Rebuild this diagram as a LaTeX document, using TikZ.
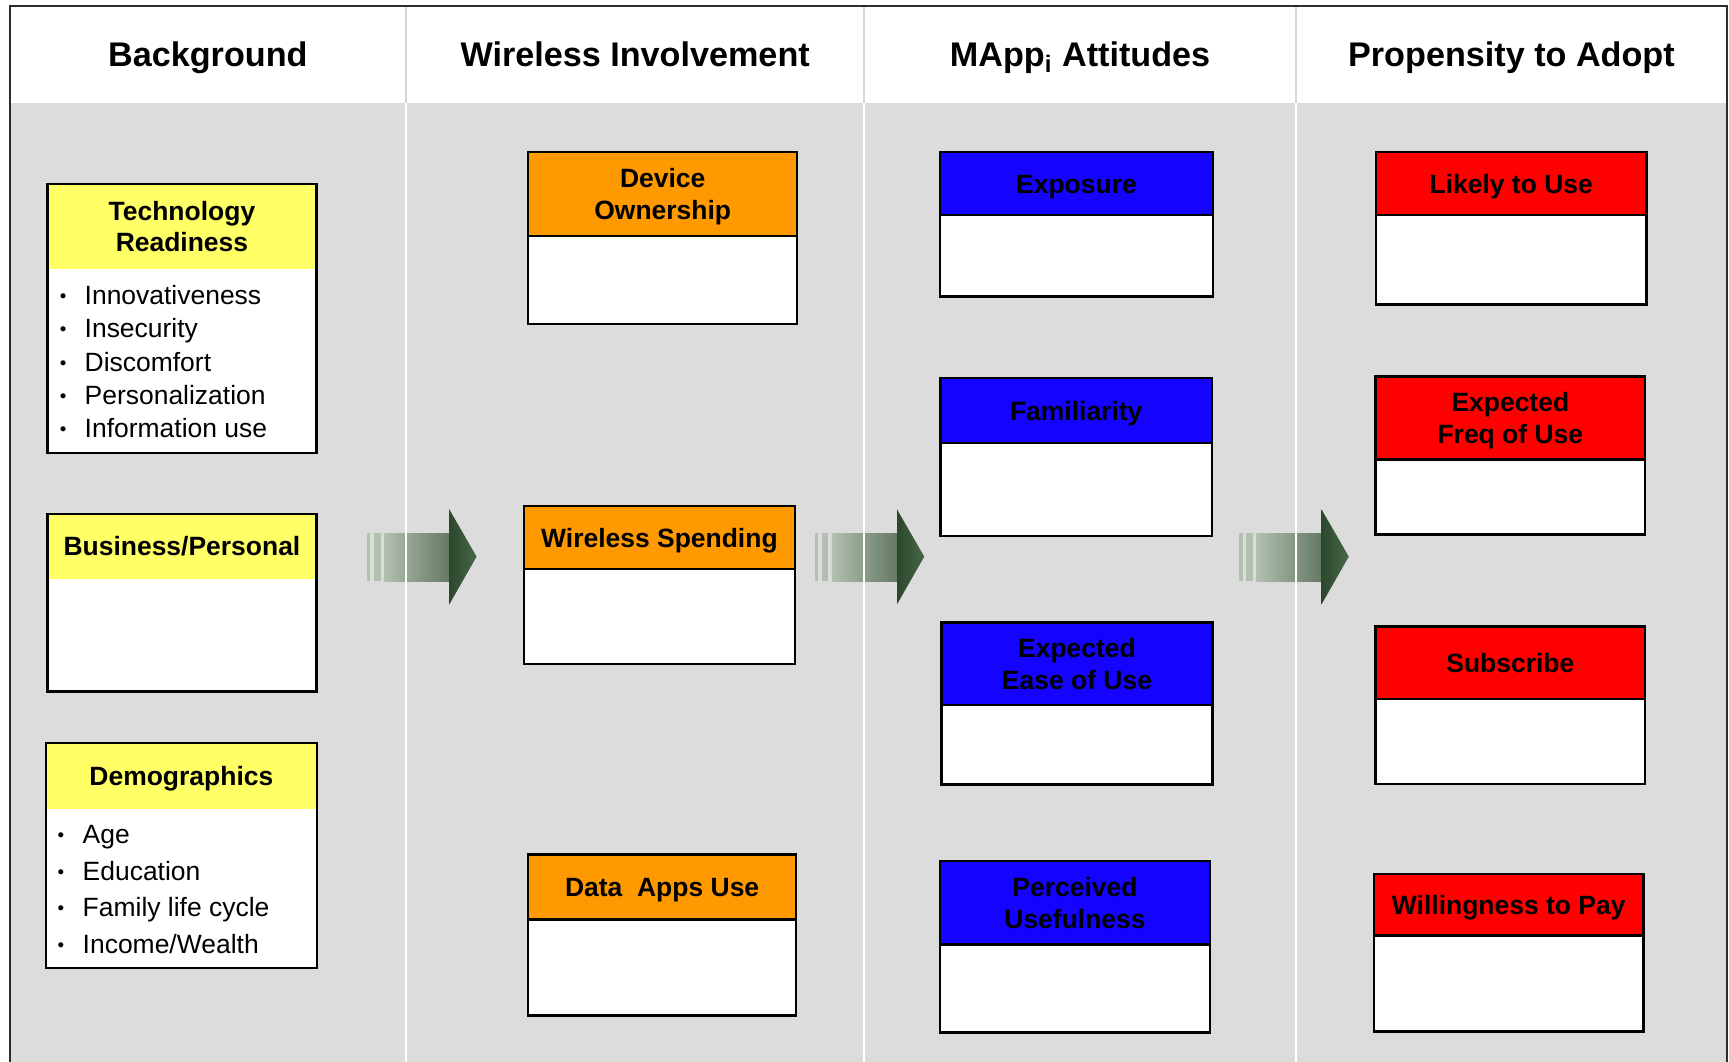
\documentclass[tikz,border=0pt]{standalone}
\usepackage{fontspec}
\setmainfont{Liberation Sans}

\definecolor{panelgray}{RGB}{220,220,220}
\definecolor{rulegray}{RGB}{214,214,214}
\definecolor{framegray}{RGB}{45,45,45}
\definecolor{bgyellow}{RGB}{255,255,102}
\definecolor{bgorange}{RGB}{255,153,0}
\definecolor{bgblue}{RGB}{20,4,255}
\definecolor{bgred}{RGB}{255,0,0}
\definecolor{arrowpale}{RGB}{178,192,176}
\definecolor{arrowmid}{RGB}{100,120,98}
\definecolor{arrowdark}{RGB}{44,72,44}
\definecolor{arrowtip}{RGB}{72,102,72}

% one line of text whose box runs from cap height down to the baseline
\newcommand\capline[1]{\rule{0pt}{0.716em}\smash{#1}}
% small bullet mark
\newcommand\smallbullet{\raisebox{1pt}{\fontsize{8.5}{10}\selectfont\textbullet}}
% bulleted list entry
\newcommand\bitem[2][11.2pt]{\makebox[#1][l]{\smallbullet}#2}

% category box: name, x1, y1, x2, y2, separator y, band colour, title, separator style
\newcommand\catbox[9]{%
  \fill[white] (#2,#3) rectangle (#4,#5);
  \fill[#7] (#2,#3) rectangle (#4,#6);
  \draw[#9] (#2,#6) -- (#4,#6);
  \draw[boxline] (#2,#3) rectangle (#4,#5);
  \node[boxtitle] (#1) at ({(#2+#4)/2},{(#3+#6)/2}) {#8};
}

% striped block arrow, shifted horizontally by #1
\newcommand\flowarrow[1]{%
  \begin{scope}[shift={(#1,0)}]
    \fill[arrowpale] (332.8,483.6) rectangle (335.8,527);
    \fill[arrowpale] (339.2,483.6) rectangle (345.3,527);
    \shade[left color=arrowpale, right color=arrowmid] (348.5,483.6) rectangle (407.8,527);
    \shade[left color=arrowdark, right color=arrowtip]
      (407.5,462) -- (432.2,504.8) -- (407.5,548) -- cycle;
  \end{scope}}

\tikzset{
  boxline/.style={draw=black, line width=1.1pt},
  sepline/.style={draw=black, line width=1.1pt},
  nosep/.style={draw=none},
  boxtitle/.style={font=\bfseries\fontsize{12}{14.4}\selectfont, align=center, inner sep=0pt},
  colhead/.style={font=\bfseries\fontsize{15.5}{18}\selectfont, inner sep=0pt},
  itemlist/.style={align=left, inner sep=0pt, anchor=north west, font=\fontsize{12}{15.1}\selectfont},
  frame/.style={draw=framegray, line width=0.9pt},
}

\begin{document}
\begin{tikzpicture}[x=0.5pt, y=-0.5pt]
  \useasboundingbox (0,0) rectangle (1568,963);
  \fill[white] (0,0) rectangle (1568,963);

  % header row and body
  \fill[panelgray] (9,93) rectangle (1566,963);

  % transition arrows between the columns
  \flowarrow{0}
  \flowarrow{406}
  \flowarrow{791}

  % column dividers
  \foreach \cx in {368,783.6,1175.4} {
    \draw[rulegray, line width=1pt] (\cx,5) -- (\cx,93);
    \draw[white, line width=1pt] (\cx,93) -- (\cx,963);
  }

  % outer frame
  \draw[frame] (9,963) -- (9,5) -- (1566,5) -- (1566,963);

  % column headings
  \node[colhead] (hbg) at (188.5,49) {\capline{Background}};
  \node[colhead] (hwi) at (576,49) {\capline{Wireless Involvement}};
  \node[colhead] (hma) at (979.5,49) {\capline{MApp\textsubscript{i} Attitudes}};
  \node[colhead] (hpa) at (1370.7,49) {\capline{Propensity to Adopt}};

  % Background
  \catbox{tr}{43}{167}{287}{411}{244}{bgyellow}{\capline{Technology}\\\capline{Readiness}}{nosep}
  \node[itemlist] (trlist) at (54,258.5)
    {\bitem{Innovativeness}\\\bitem{Insecurity}\\\bitem{Discomfort}\\\bitem{Personalization}\\\bitem{Information use}};
  \catbox{bp}{43}{466}{287}{627}{525}{bgyellow}{\capline{Business/Personal}}{nosep}
  \catbox{dm}{41.6}{674}{287.4}{878}{734}{bgyellow}{\capline{Demographics}}{nosep}
  \node[itemlist, font=\fontsize{12}{16.6}\selectfont] (dmlist) at (51.8,748.2)
    {\bitem[11.4pt]{Age}\\\bitem[11.4pt]{Education}\\\bitem[11.4pt]{Family life cycle}\\\bitem[11.4pt]{Income/Wealth}};

  % Wireless Involvement
  \catbox{do}{479}{138}{723}{294}{214}{bgorange}{\capline{Device}\\\capline{Ownership}}{sepline}
  \catbox{ws}{475}{459}{721}{602}{516}{bgorange}{\capline{Wireless Spending}}{sepline}
  \catbox{da}{479}{775}{722}{921}{834}{bgorange}{\capline{Data~~Apps Use}}{sepline}

  % MApp attitudes
  \catbox{ex}{852.5}{138}{1100}{269}{195}{bgblue}{\capline{Exposure}}{sepline}
  \catbox{fa}{853}{343}{1099}{486}{402}{bgblue}{\capline{Familiarity}}{sepline}
  \catbox{ee}{854}{564.5}{1099.4}{711.3}{639.6}{bgblue}{\capline{Expected}\\\capline{Ease of Use}}{sepline}
  \catbox{pu}{852.5}{781}{1097.3}{936.5}{856.7}{bgblue}{\capline{Perceived}\\\capline{Usefulness}}{sepline}

  % Propensity to adopt
  \catbox{lu}{1248}{138}{1493}{276}{195}{bgred}{\capline{Likely to Use}}{sepline}
  \catbox{ef}{1247.4}{341.5}{1492}{484.8}{416.6}{bgred}{\capline{Expected}\\\capline{Freq of Use}}{sepline}
  \catbox{sb}{1247.4}{568}{1492}{710.9}{634}{bgred}{\capline{Subscribe}}{sepline}
  \catbox{wp}{1245.9}{792.5}{1490.5}{935.4}{848.5}{bgred}{\capline{Willingness to Pay}}{sepline}
\end{tikzpicture}
\end{document}
